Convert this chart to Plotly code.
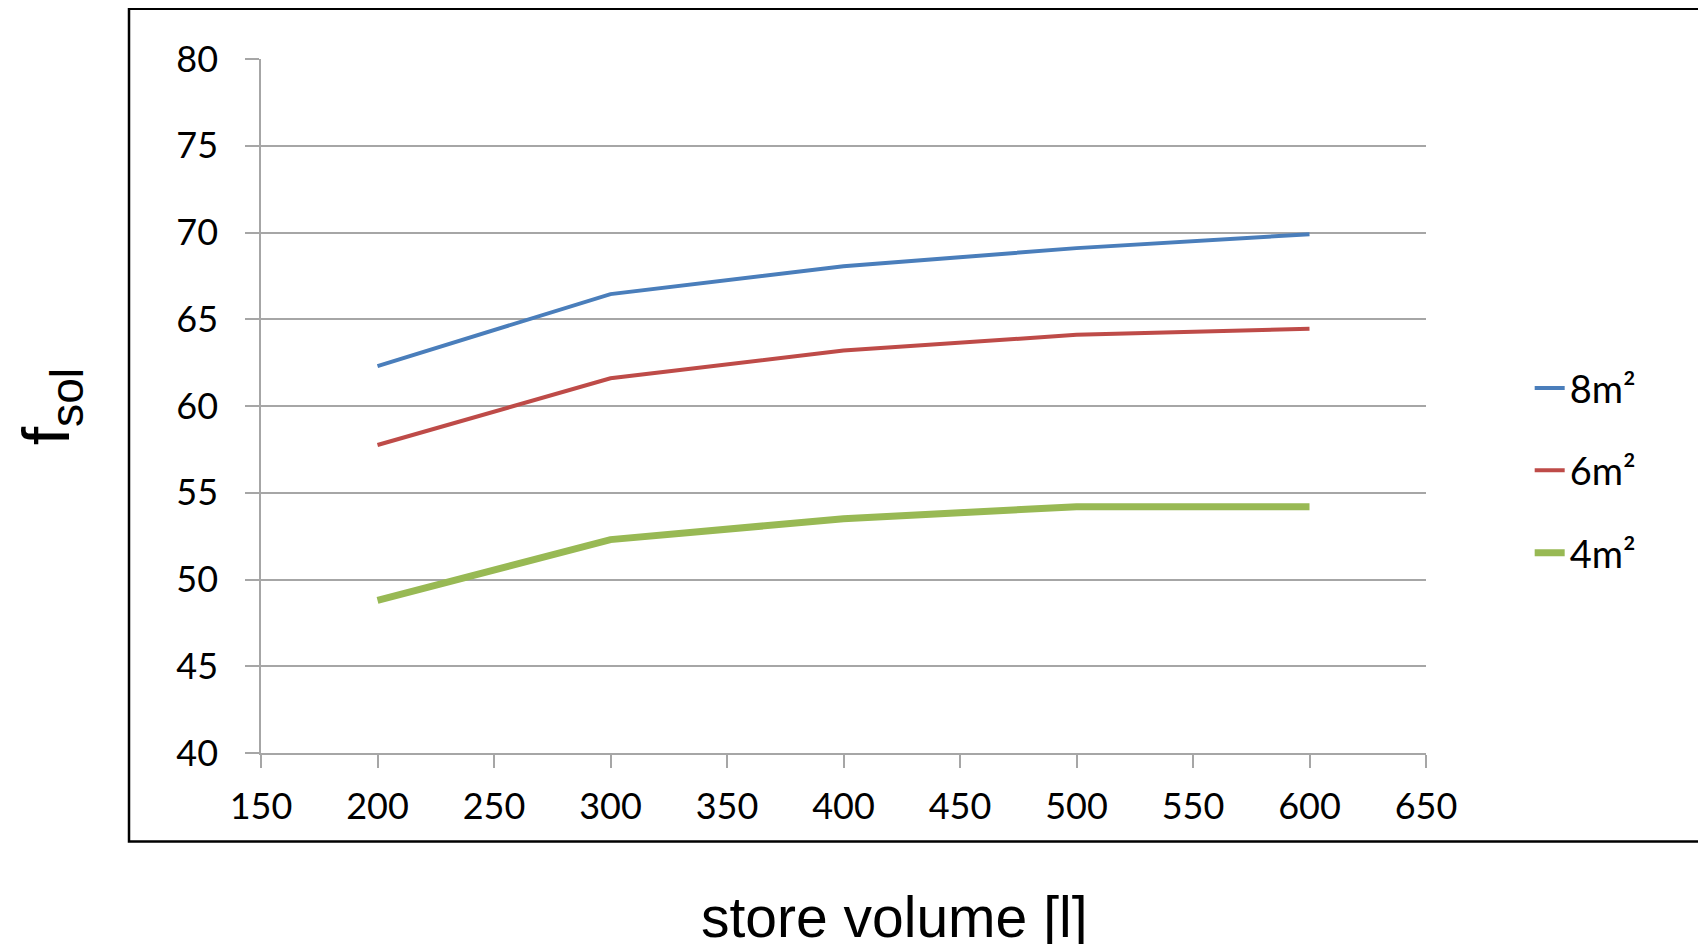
import plotly.graph_objects as go

store_volume = [200, 300, 400, 500, 600]
f_sol_8m2 = [62.3, 66.45, 68.05, 69.1, 69.9]
f_sol_6m2 = [57.75, 61.6, 63.2, 64.1, 64.45]
f_sol_4m2 = [48.8, 52.3, 53.5, 54.2, 54.2]
series_names = ["8m²", "6m²", "4m²"]
x_ticks = [150, 200, 250, 300, 350, 400, 450, 500, 550, 600, 650]
y_ticks = [40, 45, 50, 55, 60, 65, 70, 75, 80]

colors = ["#4A7EBB", "#BE4B48", "#98B954"]
widths = [4, 4, 7]

fig = go.Figure()
for i, (name, ys) in enumerate(zip(series_names, [f_sol_8m2, f_sol_6m2, f_sol_4m2])):
    fig.add_trace(go.Scatter(
        x=store_volume, y=ys, mode="lines", name=name,
        legendgroup=name,
        line=dict(color=colors[i], width=widths[i]),
    ))

tick_font = dict(family="Lato, Open Sans, sans-serif", size=36, color="#000000")
grid_col = "#A6A6A6"

fig.update_layout(
    width=1698, height=936,
    margin=dict(l=253, r=280, t=51, b=191),
    paper_bgcolor="white", plot_bgcolor="white",
    showlegend=True,
    legend=dict(
        x=1.089, y=0.571, xanchor="left", yanchor="top",
        font=dict(family="Lato, Open Sans, sans-serif", size=38, color="#000000"),
        tracegroupgap=30, bgcolor="rgba(0,0,0,0)",
    ),
    xaxis=dict(
        range=[150, 650], tickvals=x_ticks, ticktext=[str(v) for v in x_ticks],
        showgrid=False, zeroline=False,
        showline=True, linecolor=grid_col, linewidth=1.5,
        ticks="outside", ticklen=13, tickcolor=grid_col, tickwidth=1.5,
        tickfont=tick_font, ticklabelstandoff=8,
    ),
    yaxis=dict(
        range=[40, 80], tickvals=y_ticks, ticktext=[str(v) for v in y_ticks],
        showgrid=True, gridcolor=grid_col, gridwidth=1.5, zeroline=False,
        showline=True, linecolor=grid_col, linewidth=1.5,
        ticks="outside", ticklen=14, tickcolor=grid_col, tickwidth=1.5,
        tickfont=tick_font, ticklabelstandoff=20,
    ),
    shapes=[dict(
        type="rect", xref="paper", yref="paper",
        x0=-0.1133, x1=1.26, y0=-0.1275, y1=1.0725,
        line=dict(color="#000000", width=2.5), fillcolor="rgba(0,0,0,0)", layer="below",
    )],
    annotations=[
        dict(text="store volume [l]", xref="paper", yref="paper",
             x=0.5433, y=-0.2363, xanchor="center", yanchor="middle", showarrow=False,
             font=dict(family="Liberation Sans, Arial, sans-serif", size=57, color="#000000")),
        dict(text="f<sub>sol</sub>", xref="paper", yref="paper",
             x=-0.1800, y=0.4986, xanchor="center", yanchor="middle", showarrow=False,
             textangle=-90,
             font=dict(family="Liberation Sans, Arial, sans-serif", size=66, color="#000000")),
    ],
)

fig.write_html("out.html")
